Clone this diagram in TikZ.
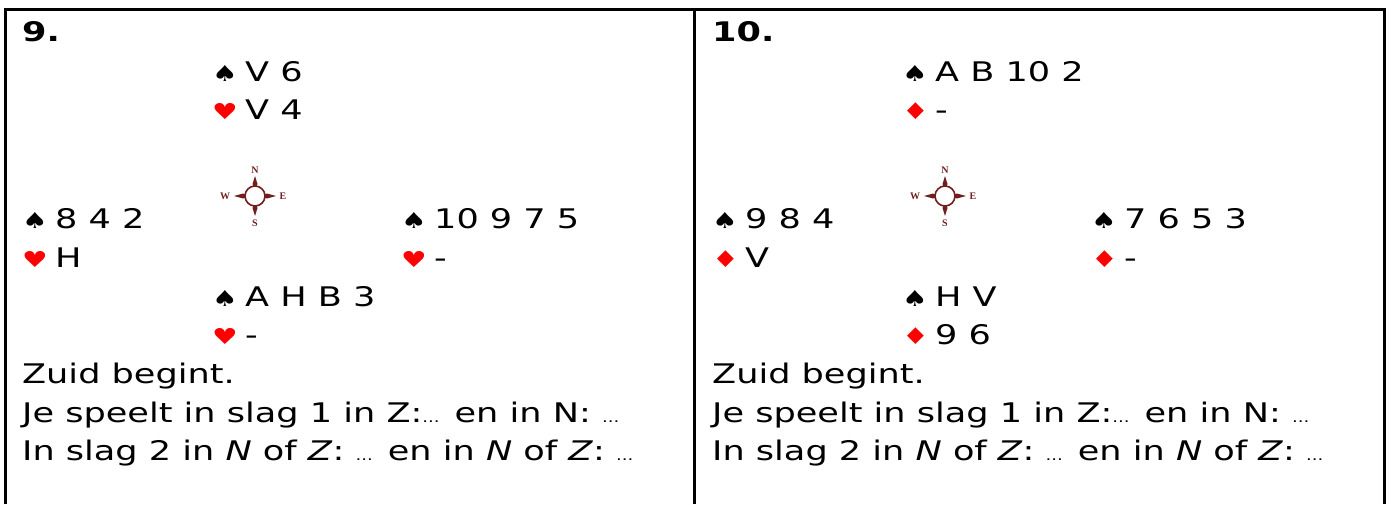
\documentclass[tikz,border=0pt]{standalone}
\usepackage{fontspec}
\setmainfont[FakeStretch=1.3]{DejaVu Sans}
\newfontfamily\compassfont{Liberation Serif}
\usepackage{xcolor}
\definecolor{suitred}{RGB}{255,0,0}
\definecolor{compassred}{RGB}{112,30,30}
\newcommand{\spd}{\makebox[33pt][l]{\fontsize{22}{22}\selectfont ♠}}
\newcommand{\hrt}{\makebox[33pt][l]{\color{suitred}\fontsize{22}{22}\selectfont ♥}}
\newcommand{\dmd}{\makebox[33pt][l]{\color{suitred}\fontsize{23}{23}\selectfont ♦}}
\newcommand{\dts}{{\fontsize{14}{14}\selectfont ...}}

\begin{document}
\begin{tikzpicture}[x=1pt,y=-1pt]
\tikzset{hand/.style={anchor=base west,inner sep=0pt,font=\fontsize{27}{27}\selectfont}}
\tikzstyle{title}=[hand,font=\fontsize{27}{27}\selectfont\bfseries]
\tikzstyle{wind}=[inner sep=0pt,text=compassred,font=\compassfont\bfseries\fontsize{10}{10}\selectfont]
\tikzset{compass/.pic={
  \fill[compassred] (-2.5,-12) -- (0,-20) -- (2.5,-12) -- (0,-6) -- cycle;
  \fill[compassred] (-2.5,12) -- (0,20) -- (2.5,12) -- (0,6) -- cycle;
  \fill[compassred] (-12,-2.5) -- (-21,0) -- (-12,2.5) -- (-6,0) -- cycle;
  \fill[compassred] (12,-2.5) -- (21,0) -- (12,2.5) -- (6,0) -- cycle;
  \draw[compassred,line width=1.6pt,fill=white] (0,0) circle (10);
  \node[wind] at (0,-26) {N};
  \node[wind] at (0,27) {S};
  \node[wind] at (-30,0) {W};
  \node[wind] at (28,0) {E};
}}
\useasboundingbox (0,0) rectangle (1392,504);

% frame
\coordinate (fl) at (5,504);
\coordinate (fm) at (694.5,504);
\coordinate (fr) at (1384,504);
\draw[line width=3pt] (fl) |- (1384,9) -- (fr);
\draw[line width=3pt] (fm) -- (694.5,9);

% 9.
\node[title](t9) at (22,41){9.};
\node[hand](n9s) at (212,81){\spd V 6};
\node[hand](n9h) at (212,119){\hrt V 4};
\node[hand](w9s) at (22,228){\spd 8 4 2};
\node[hand](w9h) at (22,267){\hrt H};
\node[hand](e9s) at (401,228){\spd 10 9 7 5};
\node[hand](e9h) at (401,267){\hrt -};
\node[hand](z9s) at (212,306){\spd A H B 3};
\node[hand](z9h) at (212,344){\hrt -};
\pic at (255,196) {compass};
\node[hand](b9a) at (22,383){Zuid begint.};
\node[hand](b9b) at (22,422){Je speelt in slag 1 in Z:\dts{} en in N: \dts};
\node[hand](b9c) at (22,460){In slag 2 in \textit{N} of \textit{Z}: \dts{} en in \textit{N} of \textit{Z}: \dts};

% 10.
\node[title](t10) at (712,41){10.};
\node[hand](n10s) at (902,81){\spd A B 10 2};
\node[hand](n10d) at (902,119){\dmd -};
\node[hand](w10s) at (712,228){\spd 9 8 4};
\node[hand](w10d) at (712,267){\dmd V};
\node[hand](e10s) at (1091,228){\spd 7 6 5 3};
\node[hand](e10d) at (1091,267){\dmd -};
\node[hand](z10s) at (902,306){\spd H V};
\node[hand](z10d) at (902,344){\dmd 9 6};
\pic at (945,196) {compass};
\node[hand](b10a) at (712,383){Zuid begint.};
\node[hand](b10b) at (712,422){Je speelt in slag 1 in Z:\dts{} en in N: \dts};
\node[hand](b10c) at (712,460){In slag 2 in \textit{N} of \textit{Z}: \dts{} en in \textit{N} of \textit{Z}: \dts};
\end{tikzpicture}
\end{document}
